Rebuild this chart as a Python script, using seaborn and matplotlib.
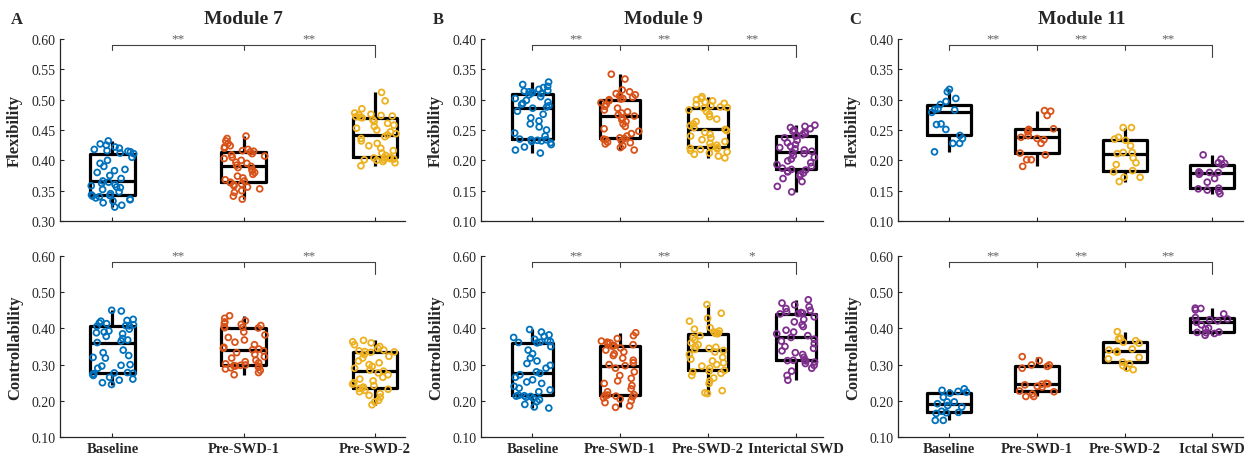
import numpy as np
import pandas as pd
import seaborn as sns
import matplotlib.pyplot as plt
from matplotlib.transforms import blended_transform_factory

# ---- data ----
groups_7 = ["Baseline", "Pre-SWD-1", "Pre-SWD-2"]
groups_9 = ["Baseline", "Pre-SWD-1", "Pre-SWD-2", "Interictal SWD"]
groups_11 = ["Baseline", "Pre-SWD-1", "Pre-SWD-2", "Ictal SWD"]
colors = ["#0072BD", "#D95319", "#EDB120", "#7E2F8E"]

# Module 7 flexibility
m7_flex = [
    [0.323, 0.326, 0.330, 0.333, 0.335, 0.336, 0.338, 0.340, 0.341, 0.342, 0.343,
     0.345, 0.348, 0.352, 0.355, 0.356, 0.358, 0.360, 0.362, 0.364, 0.366,
     0.370, 0.375, 0.380, 0.383, 0.385, 0.390, 0.395, 0.400, 0.405, 0.411,
     0.412, 0.414, 0.415, 0.416, 0.418, 0.420, 0.422, 0.425, 0.427, 0.432],
    [0.336, 0.341, 0.347, 0.350, 0.353, 0.356, 0.358, 0.360, 0.361, 0.363, 0.364,
     0.366, 0.368, 0.371, 0.374, 0.377, 0.380, 0.383, 0.385, 0.388, 0.390,
     0.392, 0.395, 0.397, 0.400, 0.403, 0.405, 0.407, 0.409, 0.411, 0.414,
     0.415, 0.416, 0.418, 0.420, 0.422, 0.424, 0.428, 0.432, 0.436, 0.440],
    [0.391, 0.396, 0.398, 0.400, 0.401, 0.401, 0.402, 0.403, 0.404, 0.404, 0.405,
     0.408, 0.412, 0.416, 0.420, 0.424, 0.428, 0.432, 0.436, 0.439, 0.442,
     0.444, 0.447, 0.450, 0.453, 0.456, 0.458, 0.461, 0.464, 0.467, 0.470,
     0.471, 0.472, 0.473, 0.474, 0.475, 0.476, 0.478, 0.485, 0.498, 0.512],
]
# Module 7 controllability
m7_ctrl = [
    [0.245, 0.250, 0.257, 0.260, 0.265, 0.270, 0.273, 0.275, 0.276, 0.277, 0.278,
     0.290, 0.296, 0.298, 0.300, 0.318, 0.320, 0.325, 0.333, 0.340, 0.361,
     0.365, 0.368, 0.372, 0.378, 0.385, 0.388, 0.390, 0.393, 0.398, 0.406,
     0.407, 0.408, 0.410, 0.413, 0.415, 0.420, 0.422, 0.425, 0.448, 0.450],
    [0.272, 0.278, 0.284, 0.288, 0.291, 0.293, 0.295, 0.296, 0.297, 0.298, 0.299,
     0.302, 0.305, 0.308, 0.312, 0.318, 0.322, 0.328, 0.333, 0.338, 0.341,
     0.343, 0.345, 0.348, 0.355, 0.362, 0.368, 0.375, 0.382, 0.390, 0.401,
     0.402, 0.403, 0.405, 0.408, 0.411, 0.414, 0.418, 0.421, 0.428, 0.435],
    [0.189, 0.197, 0.201, 0.210, 0.215, 0.220, 0.225, 0.229, 0.232, 0.234, 0.235,
     0.238, 0.242, 0.246, 0.250, 0.255, 0.260, 0.265, 0.272, 0.277, 0.282,
     0.285, 0.290, 0.295, 0.300, 0.305, 0.310, 0.318, 0.323, 0.328, 0.334,
     0.335, 0.336, 0.338, 0.340, 0.345, 0.350, 0.355, 0.360, 0.363, 0.367],
]
# Module 9 flexibility
m9_flex = [
    [0.212, 0.217, 0.222, 0.226, 0.229, 0.231, 0.232, 0.233, 0.234, 0.234, 0.235,
     0.240, 0.245, 0.250, 0.255, 0.260, 0.265, 0.270, 0.276, 0.281, 0.286,
     0.288, 0.290, 0.292, 0.294, 0.296, 0.299, 0.302, 0.305, 0.308, 0.310,
     0.311, 0.312, 0.313, 0.314, 0.315, 0.317, 0.320, 0.322, 0.325, 0.329],
    [0.217, 0.221, 0.224, 0.227, 0.229, 0.230, 0.232, 0.234, 0.235, 0.236, 0.237,
     0.240, 0.244, 0.248, 0.252, 0.256, 0.260, 0.264, 0.267, 0.270, 0.273,
     0.275, 0.278, 0.280, 0.283, 0.286, 0.289, 0.292, 0.295, 0.298, 0.300,
     0.301, 0.302, 0.304, 0.306, 0.308, 0.310, 0.313, 0.316, 0.334, 0.342],
    [0.204, 0.207, 0.210, 0.212, 0.214, 0.216, 0.218, 0.219, 0.220, 0.221, 0.222,
     0.225, 0.228, 0.231, 0.234, 0.237, 0.240, 0.243, 0.246, 0.249, 0.251,
     0.254, 0.257, 0.260, 0.264, 0.268, 0.272, 0.276, 0.280, 0.283, 0.286,
     0.287, 0.288, 0.290, 0.292, 0.294, 0.296, 0.298, 0.300, 0.302, 0.305],
    [0.148, 0.157, 0.165, 0.170, 0.174, 0.177, 0.179, 0.181, 0.182, 0.184, 0.185,
     0.187, 0.190, 0.193, 0.196, 0.199, 0.202, 0.205, 0.208, 0.211, 0.213,
     0.215, 0.217, 0.219, 0.221, 0.223, 0.226, 0.229, 0.233, 0.237, 0.240,
     0.241, 0.242, 0.244, 0.246, 0.248, 0.250, 0.252, 0.254, 0.256, 0.258],
]
# Module 9 controllability
m9_ctrl = [
    [0.180, 0.183, 0.190, 0.198, 0.203, 0.207, 0.210, 0.212, 0.213, 0.214, 0.215,
     0.225, 0.230, 0.235, 0.240, 0.248, 0.252, 0.258, 0.265, 0.272, 0.276,
     0.280, 0.290, 0.298, 0.303, 0.310, 0.318, 0.330, 0.340, 0.350, 0.360,
     0.361, 0.362, 0.364, 0.366, 0.370, 0.375, 0.378, 0.382, 0.390, 0.397],
    [0.182, 0.186, 0.195, 0.200, 0.205, 0.208, 0.211, 0.213, 0.215, 0.216, 0.217,
     0.225, 0.233, 0.242, 0.248, 0.255, 0.262, 0.270, 0.280, 0.290, 0.297,
     0.300, 0.305, 0.312, 0.318, 0.325, 0.330, 0.335, 0.340, 0.346, 0.351,
     0.352, 0.353, 0.355, 0.358, 0.360, 0.362, 0.365, 0.372, 0.380, 0.388],
    [0.220, 0.222, 0.228, 0.248, 0.255, 0.263, 0.270, 0.276, 0.280, 0.282, 0.284,
     0.290, 0.296, 0.300, 0.305, 0.310, 0.315, 0.320, 0.328, 0.335, 0.339,
     0.342, 0.345, 0.348, 0.350, 0.355, 0.360, 0.368, 0.375, 0.380, 0.385,
     0.386, 0.387, 0.390, 0.393, 0.398, 0.402, 0.420, 0.428, 0.442, 0.466],
    [0.257, 0.270, 0.282, 0.290, 0.298, 0.303, 0.307, 0.310, 0.311, 0.312, 0.313,
     0.320, 0.328, 0.333, 0.338, 0.345, 0.350, 0.358, 0.365, 0.370, 0.375,
     0.380, 0.385, 0.390, 0.395, 0.405, 0.410, 0.418, 0.425, 0.432, 0.440,
     0.441, 0.442, 0.444, 0.446, 0.450, 0.455, 0.460, 0.465, 0.470, 0.479],
]
# Module 11 flexibility
m11_flex = [
    [0.214, 0.228, 0.228, 0.236, 0.241, 0.251, 0.259, 0.260, 0.279,
     0.283, 0.284, 0.285, 0.292, 0.297, 0.302, 0.313, 0.317],
    [0.190, 0.201, 0.201, 0.209, 0.212, 0.228, 0.234, 0.236, 0.238,
     0.241, 0.247, 0.250, 0.251, 0.252, 0.274, 0.281, 0.282],
    [0.165, 0.172, 0.172, 0.181, 0.183, 0.193, 0.196, 0.204, 0.211,
     0.213, 0.213, 0.224, 0.233, 0.235, 0.238, 0.254, 0.254],
    [0.145, 0.149, 0.151, 0.153, 0.154, 0.164, 0.170, 0.177, 0.179,
     0.180, 0.180, 0.181, 0.193, 0.195, 0.196, 0.202, 0.209],
]
# Module 11 controllability
m11_ctrl = [
    [0.146, 0.146, 0.165, 0.167, 0.168, 0.171, 0.183, 0.187, 0.192,
     0.197, 0.197, 0.210, 0.221, 0.224, 0.226, 0.229, 0.233],
    [0.212, 0.212, 0.219, 0.225, 0.227, 0.238, 0.240, 0.244, 0.246,
     0.247, 0.248, 0.290, 0.295, 0.299, 0.299, 0.311, 0.322],
    [0.286, 0.290, 0.297, 0.302, 0.307, 0.316, 0.320, 0.334, 0.337,
     0.340, 0.343, 0.359, 0.362, 0.366, 0.371, 0.373, 0.391],
    [0.381, 0.386, 0.388, 0.389, 0.390, 0.398, 0.401, 0.410, 0.417,
     0.421, 0.424, 0.426, 0.430, 0.440, 0.451, 0.455, 0.456],
]

stars_7_flex = ["**", "**"]
stars_7_ctrl = ["**", "**"]
stars_9_flex = ["**", "**", "**"]
stars_9_ctrl = ["**", "**", "*"]
stars_11_flex = ["**", "**", "**"]
stars_11_ctrl = ["**", "**", "**"]

# ---- style ----
sns.set_style("ticks")
plt.rcParams["font.family"] = ["Liberation Serif", "DejaVu Serif"]
plt.rcParams["axes.edgecolor"] = "#262626"
plt.rcParams["xtick.color"] = "#262626"
plt.rcParams["ytick.color"] = "#262626"
plt.rcParams["xtick.direction"] = "in"
plt.rcParams["ytick.direction"] = "in"

np.random.seed(3)

W, H = 1259, 460
fig = plt.figure(figsize=(W / 100, H / 100), dpi=100)


def px_axes(left, right, top, bottom):
    return fig.add_axes([left / W, 1 - bottom / H, (right - left) / W, (bottom - top) / H])


def panel(ax, groups, values, ylim, yticks, ylabel, stars, xlabels, xlim, jitter, width):
    n = len(groups)
    df = pd.DataFrame({
        "group": np.repeat(groups, [len(v) for v in values]),
        "value": np.concatenate(values),
    })
    sns.stripplot(data=df, x="group", y="value", hue="group", order=groups,
                  hue_order=groups, palette=colors[:n], jitter=jitter, size=4.2,
                  legend=False, ax=ax, zorder=3)
    for coll in ax.collections:
        fc = coll.get_facecolor()
        coll.set_edgecolor(fc)
        coll.set_facecolor("none")
        coll.set_linewidth(1.3)
    sns.boxplot(data=df, x="group", y="value", order=groups, fill=False,
                color="black", linewidth=2.3, width=width, showcaps=False,
                showfliers=False, ax=ax)

    ax.set_xlim(*xlim)
    ax.set_ylim(*ylim)
    ax.set_yticks(yticks)
    ax.set_yticklabels([f"{t:.2f}" for t in yticks], fontsize=10)
    ax.tick_params(length=3, width=0.8)
    ax.set_xlabel("")
    ax.set_ylabel(ylabel, fontsize=12, fontweight="bold", va="center")
    ax.yaxis.set_label_coords(-45 / ax.bbox.width, 0.5)
    ax.set_xticks(range(n))
    if xlabels:
        ax.set_xticklabels(groups, fontsize=10.5, fontweight="bold")
    else:
        ax.set_xticklabels([])
    for s in ["top", "right"]:
        ax.spines[s].set_visible(False)
    for s in ["left", "bottom"]:
        ax.spines[s].set_linewidth(0.9)

    # significance bracket
    tr = blended_transform_factory(ax.transData, ax.transAxes)
    yb = 0.965
    ax.plot([0, n - 1], [yb, yb], transform=tr, color="#404040", lw=0.8, clip_on=False)
    for i in range(n - 1):
        ax.plot([i, i], [yb, yb - 0.025], transform=tr, color="#404040", lw=0.8, clip_on=False)
        ax.text(i + 0.5, yb + 0.005, stars[i], transform=tr, ha="center", va="bottom",
                fontsize=9.5, color="#606060")
    ax.plot([n - 1, n - 1], [yb, yb - 0.065], transform=tr, color="#404040", lw=0.8, clip_on=False)


cols = [
    (60, 405, groups_7, m7_flex, m7_ctrl, (0.30, 0.60), np.arange(0.30, 0.601, 0.05),
     stars_7_flex, stars_7_ctrl, (-0.40, 2.23), 0.17, 0.34, "Module 7", "A"),
    (481, 823, groups_9, m9_flex, m9_ctrl, (0.10, 0.40), np.arange(0.10, 0.401, 0.05),
     stars_9_flex, stars_9_ctrl, (-0.585, 3.31), 0.22, 0.46, "Module 9", "B"),
    (898, 1243, groups_11, m11_flex, m11_ctrl, (0.10, 0.40), np.arange(0.10, 0.401, 0.05),
     stars_11_flex, stars_11_ctrl, (-0.585, 3.35), 0.2, 0.5, "Module 11", "C"),
]
ctrl_ticks = np.arange(0.10, 0.601, 0.10)

for (l, r, groups, flex, ctrl, fl_lim, fl_ticks, s_f, s_c, xlim, jit, wid, title, letter) in cols:
    ax_top = px_axes(l, r, 40, 222)
    panel(ax_top, groups, flex, fl_lim, fl_ticks, "Flexibility", s_f, False, xlim, jit, wid)
    ax_top.text(0.532, 1.11, title, transform=ax_top.transAxes, ha="center", va="center",
                fontsize=14, fontweight="bold")
    fig.text((l - 43) / W, 1 - 20 / H, letter, ha="center", va="center",
             fontsize=12, fontweight="bold")
    ax_bot = px_axes(l, r, 257, 438)
    panel(ax_bot, groups, ctrl, (0.10, 0.60), ctrl_ticks, "Controllability", s_c, True, xlim, jit, wid)

fig.savefig("out.png", dpi=100)
